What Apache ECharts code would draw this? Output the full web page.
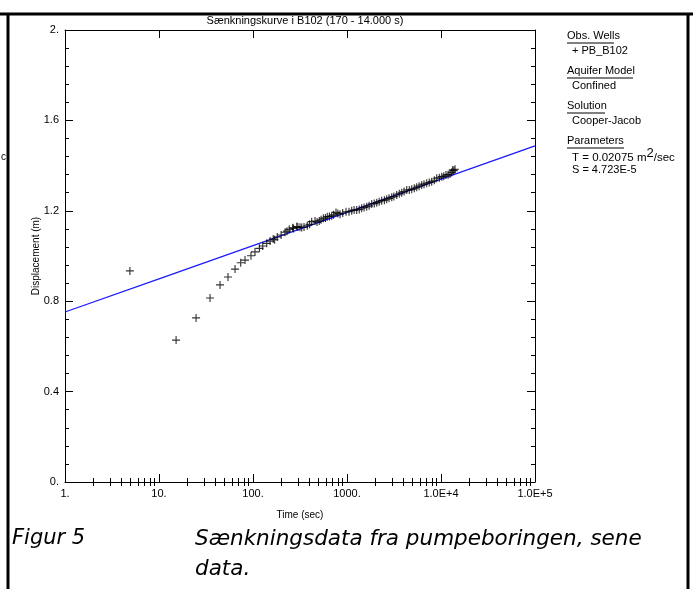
<!DOCTYPE html>
<html>
<head>
<meta charset="utf-8">
<script src="https://cdn.jsdelivr.net/npm/echarts@6/dist/echarts.min.js"></script>
<style>html,body{margin:0;padding:0;background:#fff}#c{width:693px;height:589px}</style>
</head>
<body>
<div id="c"></div>
<script>
// ---- data ----
const obsTime = [4.9, 15.2, 24.8, 34.9, 44.6, 54.2, 64.4, 74.0, 82.2, 95.2, 105, 117, 127, 140, 152, 164, 170, 181, 199, 219, 230, 243, 264, 270, 292, 300, 316, 330, 349, 378, 400, 421, 457, 480, 507, 530, 560, 590, 617, 650, 687, 720, 764, 800, 843, 900, 976, 1050, 1122, 1190, 1268, 1350, 1433, 1520, 1621, 1720, 1832, 1950, 2071, 2200, 2341, 2500, 2646, 2800, 2991, 3150, 3381, 3600, 3821, 4050, 4319, 4600, 4882, 5200, 5518, 5850, 6237, 6600, 7050, 7500, 7968, 8500, 9006, 9600, 10180, 10700, 11300, 11900, 12470, 13000, 13320, 13700, 14100];
const obsDisp = [0.934, 0.628, 0.726, 0.814, 0.872, 0.907, 0.942, 0.970, 0.982, 1.001, 1.018, 1.034, 1.044, 1.056, 1.066, 1.075, 1.072, 1.084, 1.093, 1.105, 1.110, 1.118, 1.125, 1.122, 1.130, 1.128, 1.127, 1.126, 1.128, 1.134, 1.140, 1.152, 1.155, 1.150, 1.155, 1.160, 1.167, 1.168, 1.174, 1.175, 1.178, 1.182, 1.193, 1.188, 1.185, 1.190, 1.196, 1.196, 1.200, 1.203, 1.204, 1.206, 1.211, 1.215, 1.218, 1.222, 1.230, 1.232, 1.236, 1.240, 1.245, 1.247, 1.251, 1.255, 1.260, 1.263, 1.270, 1.275, 1.280, 1.285, 1.292, 1.292, 1.295, 1.300, 1.304, 1.309, 1.314, 1.318, 1.322, 1.325, 1.329, 1.335, 1.344, 1.346, 1.351, 1.353, 1.358, 1.360, 1.363, 1.370, 1.381, 1.378, 1.384];
const fitTime = [1, 10, 100, 1000, 10000, 100000];
const fitDisp = [0.752, 0.899, 1.046, 1.193, 1.340, 1.487];
const xTickLabels = ['1.', '10.', '100.', '1000.', '1.0E+4', '1.0E+5'];
const xMinorTicks = [2,3,4,5,6,7,8,9,20,30,40,50,60,70,80,90,200,300,400,500,600,700,800,900,2000,3000,4000,5000,6000,7000,8000,9000,20000,30000,40000,50000,60000,70000,80000,90000];
const yTickLabels = ['0.', '0.4', '0.8', '1.2', '1.6', '2.'];
const titleText = 'Sænkningskurve i B102 (170 - 14.000 s)';

const FONT = 'Liberation Sans, Arial, sans-serif';
const chart = echarts.init(document.getElementById('c'), null, {renderer: 'canvas'});
const cross = 'path://M4.3,0h1.4v4.3h4.3v1.4h-4.3v4.3h-1.4v-4.3h-4.3v-1.4h4.3z';

function xAxisBase(pos, extra) {
  return Object.assign({
    type: 'log', logBase: 10, min: 1, max: 100000, position: pos, gridIndex: 0,
    axisLine: {show: true, onZero: false, lineStyle: {color: '#000', width: 1}},
    splitLine: {show: false}, axisLabel: {show: false},
    axisTick: {show: true, inside: true, length: 8, lineStyle: {color: '#000'}}
  }, extra);
}
function yAxisBase(pos, extra) {
  return Object.assign({
    type: 'value', min: 0, max: 2, interval: 0.4, position: pos, gridIndex: 0,
    axisLine: {show: true, onZero: false, lineStyle: {color: '#000', width: 1}},
    splitLine: {show: false}, axisLabel: {show: false},
    axisTick: {show: true, inside: true, length: 8, lineStyle: {color: '#000'}},
    minorTick: {show: true, splitNumber: 5, length: 4, lineStyle: {color: '#000'}}
  }, extra);
}

const legendX = 567;
const option = {
  animation: false,
  backgroundColor: '#fff',
  textStyle: {fontFamily: FONT},
  title: {text: titleText, left: 300, top: 10, textAlign: 'center',
    textStyle: {fontSize: 11, fontWeight: 'normal', color: '#000', fontFamily: FONT}},
  grid: {left: 65, right: 158, top: 30, bottom: 107, containLabel: false},
  xAxis: [
    xAxisBase('bottom', {
      name: 'Time (sec)', nameLocation: 'middle', nameGap: 28,
      nameTextStyle: {fontSize: 10, color: '#000', fontFamily: FONT},
      axisLabel: {show: true, fontSize: 11, color: '#000', margin: 6, fontFamily: FONT,
        formatter: v => xTickLabels[Math.round(Math.log10(v))]}
    }),
    xAxisBase('bottom', {axisLine: {show: false}, axisTick: {show: true, inside: true, length: 4, customValues: xMinorTicks, lineStyle: {color: '#000'}}}),
    xAxisBase('top', {}),
    xAxisBase('top', {axisLine: {show: false}, axisTick: {show: true, inside: true, length: 4, customValues: xMinorTicks, lineStyle: {color: '#000'}}})
  ],
  yAxis: [
    yAxisBase('left', {
      name: 'Displacement (m)', nameLocation: 'middle', nameGap: 24, nameRotate: 90,
      nameMoveOverlap: false,
      nameTextStyle: {fontSize: 10, color: '#000', fontFamily: FONT},
      axisLabel: {show: true, fontSize: 11, color: '#000', margin: 6, fontFamily: FONT,
        formatter: v => yTickLabels[Math.round(v / 0.4)]}
    }),
    yAxisBase('right', {})
  ],
  series: [
    {type: 'line', name: 'Cooper-Jacob', xAxisIndex: 0, yAxisIndex: 0, symbol: 'none',
      lineStyle: {color: '#1a1aff', width: 1.2}, data: fitTime.map((t, i) => [t, fitDisp[i]]), z: 3},
    {type: 'scatter', name: 'PB_B102', xAxisIndex: 0, yAxisIndex: 0, symbol: cross, symbolSize: 8,
      itemStyle: {color: '#000'}, data: obsTime.map((t, i) => [t, obsDisp[i]]), z: 4}
  ],
  graphic: [
    // page frame
    {type: 'line', shape: {x1: 0, y1: 14, x2: 693, y2: 14}, style: {stroke: '#000', lineWidth: 3}},
    {type: 'line', shape: {x1: 8, y1: 14, x2: 8, y2: 589}, style: {stroke: '#000', lineWidth: 3}},
    {type: 'line', shape: {x1: 688, y1: 14, x2: 688, y2: 589}, style: {stroke: '#000', lineWidth: 3}},
    {type: 'text', x: 1, y: 152, style: {text: 'c', fontSize: 10, fill: '#000', fontFamily: FONT}},
    // legend panel
    {type: 'text', x: legendX, y: 30, style: {text: 'Obs. Wells', fontSize: 11, fill: '#000', fontFamily: FONT}},
    {type: 'line', shape: {x1: legendX, y1: 43, x2: legendX + 47, y2: 43}, style: {stroke: '#000', lineWidth: 1}},
    {type: 'text', x: legendX + 5, y: 45, style: {text: '+ PB_B102', fontSize: 11, fill: '#000', fontFamily: FONT}},
    {type: 'text', x: legendX, y: 65, style: {text: 'Aquifer Model', fontSize: 11, fill: '#000', fontFamily: FONT}},
    {type: 'line', shape: {x1: legendX, y1: 78, x2: legendX + 66, y2: 78}, style: {stroke: '#000', lineWidth: 1}},
    {type: 'text', x: legendX + 5, y: 80, style: {text: 'Confined', fontSize: 11, fill: '#000', fontFamily: FONT}},
    {type: 'text', x: legendX, y: 100, style: {text: 'Solution', fontSize: 11, fill: '#000', fontFamily: FONT}},
    {type: 'line', shape: {x1: legendX, y1: 113, x2: legendX + 38, y2: 113}, style: {stroke: '#000', lineWidth: 1}},
    {type: 'text', x: legendX + 5, y: 115, style: {text: 'Cooper-Jacob', fontSize: 11, fill: '#000', fontFamily: FONT}},
    {type: 'text', x: legendX, y: 135, style: {text: 'Parameters', fontSize: 11, fill: '#000', fontFamily: FONT}},
    {type: 'line', shape: {x1: legendX, y1: 148, x2: legendX + 57, y2: 148}, style: {stroke: '#000', lineWidth: 1}},
    {type: 'text', x: legendX + 5, y: 147, style: {
      text: '{n|T = 0.02075 m}{s|2}{n|/sec}', fontFamily: FONT, fill: '#000',
      rich: {n: {fontSize: 11.5, verticalAlign: 'bottom', lineHeight: 17, fontFamily: FONT},
             s: {fontSize: 13, verticalAlign: 'top', lineHeight: 17, fontFamily: FONT}}}},
    {type: 'text', x: legendX + 5, y: 164, style: {text: 'S = 4.723E-5', fontSize: 11, fill: '#000', fontFamily: FONT}},
    // caption
    {type: 'text', x: 12, y: 528, style: {text: 'Figur 5', fontSize: 21, fontStyle: 'italic', fill: '#000', fontFamily: 'DejaVu Sans'}},
    {type: 'text', x: 195, y: 528, style: {text: 'Sænkningsdata fra pumpeboringen, sene', fontSize: 21.5, fontStyle: 'italic', fill: '#000', fontFamily: 'DejaVu Sans'}},
    {type: 'text', x: 195, y: 558, style: {text: 'data.', fontSize: 21.5, fontStyle: 'italic', fill: '#000', fontFamily: 'DejaVu Sans'}}
  ]
};
chart.setOption(option);
</script>
</body>
</html>
